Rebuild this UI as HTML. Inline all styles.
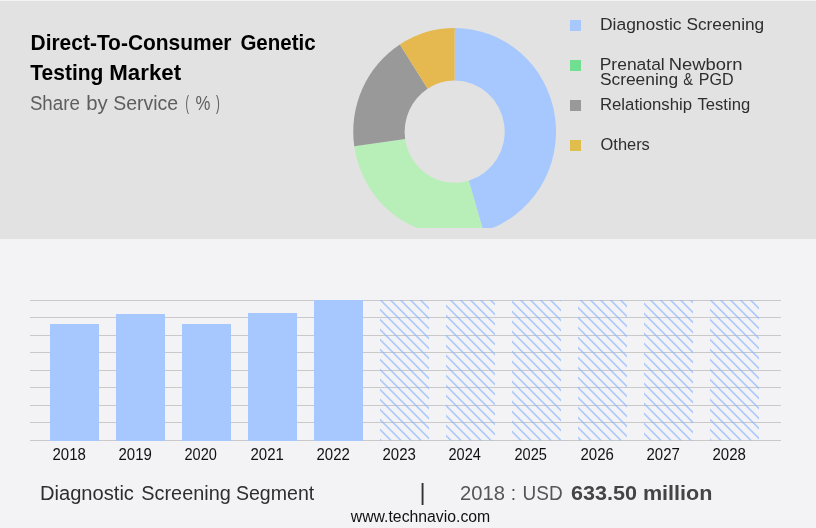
<!DOCTYPE html>
<html lang="en">
<head>
<meta charset="utf-8">
<title>Direct-To-Consumer Genetic Testing Market</title>
<style>
html,body{margin:0;padding:0;}
body{width:816px;height:528px;overflow:hidden;background:#f3f3f6;font-family:"Liberation Sans",sans-serif;}
svg{display:block;position:absolute;left:0;top:0;}
text{font-family:"Liberation Sans",sans-serif;white-space:pre;}
.t{font-size:21.6px;font-weight:bold;fill:#000;}
.s{font-size:19.5px;font-weight:normal;fill:#5e5e5e;}
.l{font-size:16.3px;font-weight:normal;fill:#2e2e2e;}
.x{font-size:15.6px;font-weight:normal;fill:#111;}
.b1{font-size:19.5px;font-weight:normal;fill:#2e2e2e;}
.b2{font-size:20.5px;font-weight:normal;fill:#555;}
.b3{font-size:20.5px;font-weight:bold;fill:#444;}
.w{font-size:16px;font-weight:normal;fill:#111;}
.p{font-size:23.6px;font-weight:normal;fill:#333;}
</style>
</head>
<body>
<svg width="816" height="528" viewBox="0 0 816 528">
<defs>
<pattern id="h" patternUnits="userSpaceOnUse" x="0.5" y="0" width="10" height="10">
<path d="M0 0L10 10M9 -1L11 1M-1 9L1 11" stroke="#88b5ff" stroke-width="1.15" fill="none"/>
</pattern>
<clipPath id="pc"><rect x="340" y="20" width="230" height="207.9"/></clipPath>
</defs>
<rect x="0" y="0" width="816" height="528" fill="#f3f3f6"/>
<rect x="0" y="0" width="816" height="239" fill="#e2e2e2"/>
<rect x="0" y="0" width="816" height="1" fill="#f4f4f4"/>
<g clip-path="url(#pc)">
<path d="M454.65 28.00A101.4 103.70 0 0 1 483.28 231.18L468.77 180.75A50.0 51.13 0 0 0 454.65 80.56Z" fill="#a6c8ff"/>
<path d="M483.28 231.18A101.4 103.70 0 0 1 354.26 146.31L405.15 138.90A50.0 51.13 0 0 0 468.77 180.75Z" fill="#b8efb8"/>
<path d="M354.26 146.31A101.4 103.70 0 0 1 399.87 44.43L427.64 88.67A50.0 51.13 0 0 0 405.15 138.90Z" fill="#999999"/>
<path d="M399.87 44.43A101.4 103.70 0 0 1 454.65 28.00L454.65 80.56A50.0 51.13 0 0 0 427.64 88.67Z" fill="#e5b94f"/>
</g>
<rect x="570" y="20" width="11" height="11" fill="#a6c8ff"/>
<rect x="570" y="60" width="11" height="11" fill="#70df92"/>
<rect x="570" y="100" width="11" height="11" fill="#999999"/>
<rect x="570" y="140" width="11" height="11" fill="#e0be4d"/>
<rect x="30" y="300" width="751" height="1" fill="#c9c9c9"/>
<rect x="30" y="317" width="751" height="1" fill="#c9c9c9"/>
<rect x="30" y="335" width="751" height="1" fill="#c9c9c9"/>
<rect x="30" y="352" width="751" height="1" fill="#c9c9c9"/>
<rect x="30" y="370" width="751" height="1" fill="#c9c9c9"/>
<rect x="30" y="387" width="751" height="1" fill="#c9c9c9"/>
<rect x="30" y="405" width="751" height="1" fill="#c9c9c9"/>
<rect x="30" y="422" width="751" height="1" fill="#c9c9c9"/>
<rect x="30" y="440" width="751" height="1" fill="#c9c9c9"/>
<rect x="50" y="324" width="49" height="117" fill="#a6c8ff"/>
<rect x="116" y="314" width="49" height="127" fill="#a6c8ff"/>
<rect x="182" y="324" width="49" height="117" fill="#a6c8ff"/>
<rect x="248" y="313" width="49" height="128" fill="#a6c8ff"/>
<rect x="314" y="300" width="49" height="141" fill="#a6c8ff"/>
<rect x="380" y="300" width="49" height="140.5" fill="url(#h)"/>
<rect x="446" y="300" width="49" height="140.5" fill="url(#h)"/>
<rect x="512" y="300" width="49" height="140.5" fill="url(#h)"/>
<rect x="578" y="300" width="49" height="140.5" fill="url(#h)"/>
<rect x="644" y="300" width="49" height="140.5" fill="url(#h)"/>
<rect x="710" y="300" width="49" height="140.5" fill="url(#h)"/>
<text class="t" y="49.5"><tspan x="30.53" textLength="200.99" lengthAdjust="spacingAndGlyphs">Direct-To-Consumer</tspan> <tspan x="240.40" textLength="75.21" lengthAdjust="spacingAndGlyphs">Genetic</tspan></text>
<text class="t" y="79.7"><tspan x="30.30" textLength="73.06" lengthAdjust="spacingAndGlyphs">Testing</tspan> <tspan x="109.27" textLength="71.83" lengthAdjust="spacingAndGlyphs">Market</tspan></text>
<text class="s" y="109.8"><tspan x="29.90" textLength="49.91" lengthAdjust="spacingAndGlyphs">Share</tspan> <tspan x="86.26" textLength="21.48" lengthAdjust="spacingAndGlyphs">by</tspan> <tspan x="113.20" textLength="64.94" lengthAdjust="spacingAndGlyphs">Service</tspan> <tspan x="185.47" textLength="3.46" lengthAdjust="spacingAndGlyphs">(</tspan> <tspan x="195.60" textLength="14.89" lengthAdjust="spacingAndGlyphs">%</tspan> <tspan x="216.00" textLength="3.79" lengthAdjust="spacingAndGlyphs">)</tspan></text>
<text class="l" y="29.8"><tspan x="599.93" textLength="81.62" lengthAdjust="spacingAndGlyphs">Diagnostic</tspan> <tspan x="686.40" textLength="77.82" lengthAdjust="spacingAndGlyphs">Screening</tspan></text>
<text class="l" y="69.5"><tspan x="599.73" textLength="65.03" lengthAdjust="spacingAndGlyphs">Prenatal</tspan> <tspan x="668.77" textLength="73.62" lengthAdjust="spacingAndGlyphs">Newborn</tspan></text>
<text class="l" y="84.8"><tspan x="599.90" textLength="78.23" lengthAdjust="spacingAndGlyphs">Screening</tspan> <tspan x="683.20" textLength="9.67" lengthAdjust="spacingAndGlyphs">&amp;</tspan> <tspan x="698.81" textLength="34.84" lengthAdjust="spacingAndGlyphs">PGD</tspan></text>
<text class="l" y="109.7"><tspan x="599.97" textLength="92.08" lengthAdjust="spacingAndGlyphs">Relationship</tspan> <tspan x="697.50" textLength="52.68" lengthAdjust="spacingAndGlyphs">Testing</tspan></text>
<text class="l" y="149.9"><tspan x="600.60" textLength="49.24" lengthAdjust="spacingAndGlyphs">Others</tspan></text>
<text class="b1" y="499.8"><tspan x="39.97" textLength="93.97" lengthAdjust="spacingAndGlyphs">Diagnostic</tspan> <tspan x="141.30" textLength="89.46" lengthAdjust="spacingAndGlyphs">Screening</tspan> <tspan x="235.90" textLength="78.32" lengthAdjust="spacingAndGlyphs">Segment</tspan></text>
<text class="b2" y="499.7"><tspan x="460.02" textLength="44.88" lengthAdjust="spacingAndGlyphs">2018</tspan> <tspan x="510.87" textLength="5.32" lengthAdjust="spacingAndGlyphs">:</tspan> <tspan x="522.57" textLength="40.07" lengthAdjust="spacingAndGlyphs">USD</tspan></text>
<text class="b3" y="499.7"><tspan x="571.00" textLength="65.92" lengthAdjust="spacingAndGlyphs">633.50</tspan> <tspan x="642.95" textLength="69.50" lengthAdjust="spacingAndGlyphs">million</tspan></text>
<text class="w" y="522.0"><tspan x="350.79" textLength="139.44" lengthAdjust="spacingAndGlyphs">www.technavio.com</tspan></text>
<text class="x" y="459.9"><tspan x="52.50" textLength="33.35" lengthAdjust="spacingAndGlyphs">2018</tspan></text>
<text class="x" y="459.9"><tspan x="118.50" textLength="33.35" lengthAdjust="spacingAndGlyphs">2019</tspan></text>
<text class="x" y="459.9"><tspan x="184.50" textLength="32.39" lengthAdjust="spacingAndGlyphs">2020</tspan></text>
<text class="x" y="459.9"><tspan x="250.50" textLength="33.35" lengthAdjust="spacingAndGlyphs">2021</tspan></text>
<text class="x" y="459.9"><tspan x="316.50" textLength="33.35" lengthAdjust="spacingAndGlyphs">2022</tspan></text>
<text class="x" y="459.9"><tspan x="382.50" textLength="33.35" lengthAdjust="spacingAndGlyphs">2023</tspan></text>
<text class="x" y="459.9"><tspan x="448.50" textLength="32.39" lengthAdjust="spacingAndGlyphs">2024</tspan></text>
<text class="x" y="459.9"><tspan x="514.50" textLength="32.39" lengthAdjust="spacingAndGlyphs">2025</tspan></text>
<text class="x" y="459.9"><tspan x="580.50" textLength="33.35" lengthAdjust="spacingAndGlyphs">2026</tspan></text>
<text class="x" y="459.9"><tspan x="646.50" textLength="33.35" lengthAdjust="spacingAndGlyphs">2027</tspan></text>
<text class="x" y="459.9"><tspan x="712.50" textLength="33.35" lengthAdjust="spacingAndGlyphs">2028</tspan></text>
<text class="p" x="419.5" y="500">|</text>
</svg>
</body>
</html>
